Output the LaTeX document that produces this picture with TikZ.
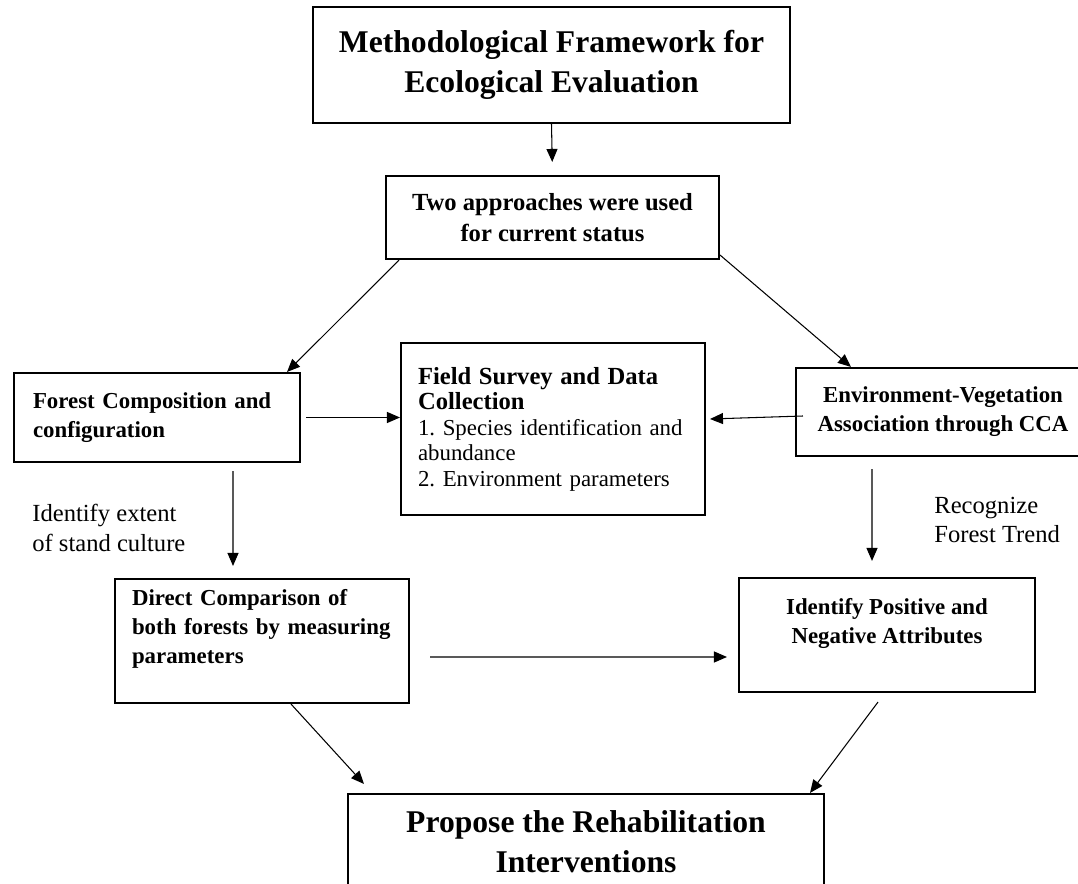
\documentclass[tikz,border=0pt]{standalone}
\usepackage{fontspec}
\setmainfont{Liberation Serif}
\usetikzlibrary{arrows.meta}

\begin{document}
\begin{tikzpicture}[
    x=0.02cm, y=-0.02cm,
    >={Triangle[length=0.26cm, width=0.22cm]},
    arrow/.style={->, line width=0.6pt},
    block/.style={
        draw,
        rectangle,
        line width=1.2pt,
        align=center,
        inner sep=0pt,
        font=\bfseries\fontsize{13}{16.5}\selectfont
    },
    listblock/.style={
        block,
        align=left
    },
    bigblock/.style={
        block,
        font=\bfseries\fontsize{18}{22.7}\selectfont
    },
    note/.style={
        align=left,
        inner sep=0pt,
        font=\fontsize{14}{17}\selectfont
    }
]

    \useasboundingbox (0,0) rectangle (1078,884);

    % Nodes
    \node[bigblock, minimum width=9.54cm, minimum height=2.32cm] (frame) at (551.5,65)
    {Methodological Framework for\\Ecological Evaluation};

    \node[block, font=\bfseries\fontsize{14}{17.5}\selectfont,
          minimum width=6.66cm, minimum height=1.66cm] (approach) at (552.5,217.5)
    {Two approaches were used\\for current status};

    \node[listblock, text width=4.96cm, minimum width=5.72cm, minimum height=1.78cm] (compos) at (157,417.5)
    {Forest Composition and\\configuration};

    \node[listblock, text width=5.4cm, minimum width=6.08cm, minimum height=3.44cm,
          font=\fontsize{13}{14.5}\selectfont] (survey) at (553,429)
    {{\bfseries\fontsize{14}{14.5}\selectfont Field Survey and Data}\\
     {\bfseries\fontsize{14}{14.5}\selectfont Collection}\\
     1.\ Species identification and\\abundance\\2.\ Environment parameters};

    \node[block, minimum width=5.88cm, minimum height=1.76cm] (cca) at (943,412)
    {Environment-Vegetation\\Association through CCA};

    \node[listblock, text width=5.2cm, minimum width=5.88cm, minimum height=2.48cm] (compare) at (262,641)
    {Direct Comparison of\\both forests by measuring\\parameters\\~};

    \node[block, minimum width=5.92cm, minimum height=2.28cm] (attrib) at (887,635)
    {Identify Positive and\\Negative Attributes\\~};

    \node[bigblock, minimum width=9.52cm, minimum height=1.92cm] (propose) at (586,842)
    {Propose the Rehabilitation\\Interventions};

    % Labels
    \node[note, anchor=west] (extent) at (32,528) {Identify extent\\of stand culture};
    \node[note, anchor=west] (trend) at (934,520) {Recognize\\Forest Trend};

    % Arrows
    \draw[arrow, shorten >=0.26cm] (frame.south) -- (approach.north);
    \draw[arrow] ([xshift=0.28cm]approach.south west) -- ([xshift=-0.28cm]compos.north east);
    \draw[arrow] ([yshift=0.1cm]approach.south east) -- ([xshift=1.12cm]cca.north west);
    \draw[arrow, shorten <=0.1cm] (compos.east) -- (compos.east -| survey.west);
    \draw[arrow] ([xshift=0.16cm,yshift=-0.08cm]cca.west) -- ([xshift=0.08cm,yshift=0.2cm]survey.east);
    \draw[arrow, shorten <=0.16cm, shorten >=0.24cm] ([xshift=1.52cm]compos.south) -- ([xshift=-0.58cm]compare.north);
    \draw[arrow, shorten <=0.24cm, shorten >=0.32cm] ([xshift=-1.42cm]cca.south) -- ([xshift=-0.3cm]attrib.north);
    \draw[arrow, shorten <=0.4cm, shorten >=0.22cm] ([yshift=-0.32cm]compare.east) -- ([yshift=-0.44cm]attrib.west);
    \draw[arrow] ([xshift=0.58cm]compare.south) -- ([xshift=0.34cm,yshift=0.18cm]propose.north west);
    \draw[arrow] ([xshift=-0.18cm,yshift=-0.18cm]attrib.south) -- ([xshift=-0.3cm]propose.north east);

\end{tikzpicture}
\end{document}
